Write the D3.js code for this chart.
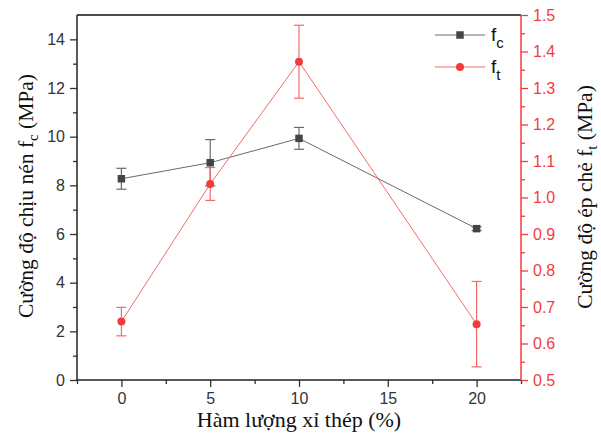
<!DOCTYPE html>
<html>
<head>
<meta charset="utf-8">
<script src="https://cdn.jsdelivr.net/npm/d3@7"></script>
<style>
  body { margin: 0; background: #fff; }
  text { font-family: "Liberation Sans", Arial, sans-serif; }
  .serif { font-family: "Liberation Serif", "Times New Roman", serif; }
</style>
</head>
<body>
<div id="chart"></div>
<script>
// data
var content = [0, 5, 10, 20];
var fc = [8.27, 8.93, 9.93, 6.22];
var fcErr = [0.43, 0.95, 0.45, 0.08];
var ft = [0.66, 1.037, 1.372, 0.653];
var ftErr = [0.039, 0.045, 0.1, 0.117];
var xTicks = [0, 5, 10, 15, 20];
var yLeftTicks = [0, 2, 4, 6, 8, 10, 12, 14];
var yRightTicks = [0.5, 0.6, 0.7, 0.8, 0.9, 1.0, 1.1, 1.2, 1.3, 1.4, 1.5];

var width = 601, height = 434;
var m = { left: 77, right: 80, top: 15, bottom: 54 };
var red = '#f23c3c';
var dark = '#454545';

var svg = d3.select('#chart').append('svg')
    .attr('width', width)
    .attr('height', height);

var x = d3.scaleLinear().domain([-2.5, 22.5]).range([m.left, width - m.right]);
var yL = d3.scaleLinear().domain([0, 15]).range([height - m.bottom, m.top]);
var yR = d3.scaleLinear().domain([0.5, 1.5]).range([height - m.bottom, m.top]);

// axes
svg.append('g')
    .attr('transform', 'translate(0,' + (height - m.bottom) + ')')
    .call(d3.axisBottom(x).tickValues(xTicks).tickSize(7).tickPadding(6).tickFormat(d3.format('d')));
svg.append('g')
    .attr('transform', 'translate(0,' + (height - m.bottom) + ')')
    .call(d3.axisBottom(x).tickValues(d3.range(-2.5, 23, 5)).tickSize(4).tickFormat(''));

svg.append('g')
    .attr('transform', 'translate(' + m.left + ',0)')
    .call(d3.axisLeft(yL).tickValues(yLeftTicks).tickSize(7).tickPadding(5));
svg.append('g')
    .attr('transform', 'translate(' + m.left + ',0)')
    .call(d3.axisLeft(yL).tickValues(d3.range(1, 15, 2)).tickSize(4).tickFormat(''));

var rightAxis = svg.append('g')
    .attr('transform', 'translate(' + (width - m.right) + ',0)')
    .call(d3.axisRight(yR).tickValues(yRightTicks).tickSize(7).tickPadding(5).tickFormat(d3.format('.1f')));
var rightMinor = svg.append('g')
    .attr('transform', 'translate(' + (width - m.right) + ',0)')
    .call(d3.axisRight(yR).tickValues(d3.range(0.55, 1.5, 0.1)).tickSize(4).tickFormat(''));

svg.selectAll('.domain').remove();
svg.selectAll('.tick line').attr('stroke', '#333').attr('stroke-width', 1.3);
svg.selectAll('.tick text').attr('font-size', 16).attr('fill', '#333');
rightAxis.selectAll('.tick line').attr('stroke', red);
rightMinor.selectAll('.tick line').attr('stroke', red);
rightAxis.selectAll('.tick text').attr('fill', red);

// frame
svg.append('line').attr('x1', m.left).attr('x2', width - m.right)
    .attr('y1', m.top).attr('y2', m.top).attr('stroke', '#111').attr('stroke-width', 1.6);
svg.append('line').attr('x1', m.left).attr('x2', width - m.right)
    .attr('y1', height - m.bottom).attr('y2', height - m.bottom).attr('stroke', '#222').attr('stroke-width', 1.5);
svg.append('line').attr('x1', m.left).attr('x2', m.left)
    .attr('y1', m.top).attr('y2', height - m.bottom).attr('stroke', '#222').attr('stroke-width', 1.5);
svg.append('line').attr('x1', width - m.right).attr('x2', width - m.right)
    .attr('y1', m.top).attr('y2', height - m.bottom).attr('stroke', red).attr('stroke-width', 1.5);

// series
function drawSeries(vals, errs, y, color, lineColor, marker) {
  var g = svg.append('g');
  var pts = content.map(function (c, i) { return { x: c, v: vals[i], e: errs[i] }; });
  g.append('path').datum(pts)
      .attr('fill', 'none').attr('stroke', lineColor).attr('stroke-width', 1)
      .attr('d', d3.line().x(function (d) { return x(d.x); }).y(function (d) { return y(d.v); }));
  var eb = g.selectAll('.err').data(pts).enter().append('g')
      .attr('stroke', lineColor).attr('stroke-width', 1.2);
  eb.append('line')
      .attr('x1', function (d) { return x(d.x); }).attr('x2', function (d) { return x(d.x); })
      .attr('y1', function (d) { return y(d.v + d.e); }).attr('y2', function (d) { return y(d.v - d.e); });
  [1, -1].forEach(function (s) {
    eb.append('line')
        .attr('x1', function (d) { return x(d.x) - 5; }).attr('x2', function (d) { return x(d.x) + 5; })
        .attr('y1', function (d) { return y(d.v + s * d.e); }).attr('y2', function (d) { return y(d.v + s * d.e); });
  });
  g.selectAll('.pt').data(pts).enter().append('path')
      .attr('transform', function (d) { return 'translate(' + x(d.x) + ',' + y(d.v) + ')'; })
      .attr('d', d3.symbol().type(marker).size(marker === d3.symbolSquare ? 56 : 50))
      .attr('fill', color);
}
drawSeries(fc, fcErr, yL, dark, '#6a6a6a', d3.symbolSquare);
drawSeries(ft, ftErr, yR, red, '#f46a6a', d3.symbolCircle);

// legend
var legend = [
  { sub: 'c', color: dark, line: '#6a6a6a', marker: d3.symbolSquare, y: 35 },
  { sub: 't', color: red, line: '#f46a6a', marker: d3.symbolCircle, y: 67 }
];
legend.forEach(function (l) {
  svg.append('line').attr('x1', 435).attr('x2', 485).attr('y1', l.y).attr('y2', l.y)
      .attr('stroke', l.line).attr('stroke-width', 1);
  svg.append('path').attr('transform', 'translate(460,' + l.y + ')')
      .attr('d', d3.symbol().type(l.marker).size(l.marker === d3.symbolSquare ? 56 : 50))
      .attr('fill', l.color);
  var t = svg.append('text').attr('x', 491).attr('y', l.y + 6)
      .attr('font-size', 19).attr('fill', '#111');
  t.append('tspan').text('f');
  t.append('tspan').attr('dy', 7).attr('font-size', 15).text(l.sub);
});

// axis titles
svg.append('text').attr('class', 'serif')
    .attr('x', (m.left + width - m.right) / 2).attr('y', 427)
    .attr('text-anchor', 'middle').attr('font-size', 22).attr('fill', '#111')
    .text('Hàm lượng xỉ thép (%)');

function yTitle(xPos, yPos, main, sub) {
  var t = svg.append('text').attr('class', 'serif')
      .attr('transform', 'translate(' + xPos + ',' + yPos + ') rotate(-90)')
      .attr('text-anchor', 'middle').attr('font-size', 21.5).attr('fill', '#111');
  t.append('tspan').text(main);
  t.append('tspan').attr('dy', 5).attr('font-size', 15).text(sub);
  t.append('tspan').attr('dy', -5).text(' (MPa)');
}
yTitle(33, 196, 'Cường độ chịu nén f', 'c');
yTitle(592, 197, 'Cường độ ép chẻ f', 't');
</script>
</body>
</html>
